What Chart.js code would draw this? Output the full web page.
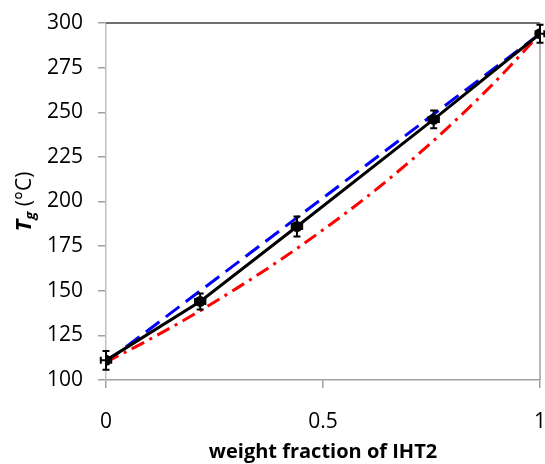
<!DOCTYPE html>
<html lang="en">
  <head>
    <meta charset="utf-8">
    <title>Tg vs weight fraction of IHT2</title>
    <script src="https://cdn.jsdelivr.net/npm/chart.js@4/dist/chart.umd.min.js"></script>
    <style>
      body { margin: 0; background: #fff; }
      #wrap { width: 545px; height: 464px; }
    </style>
  </head>
  <body>
    <div id="wrap">
      <canvas id="tg-chart" width="545" height="464"></canvas>
    </div>
    <script>
      // measured Tg with error bars
      var wIHT2 = [0, 0.217, 0.44, 0.755, 1];
      var tgMeasured = [111, 144, 186, 246, 294];
      var tgErr = [5.3, 4.5, 5.6, 5, 5];
      var wErr = [0.012, 0.012, 0.012, 0.012, 0.01];

      // linear mixing rule (blue dashed)
      var linX = [0, 1];
      var linY = [110, 294];

      // Fox equation curve (red dash-dot)
      var foxX = [0, 0.1, 0.2, 0.3, 0.4, 0.5, 0.6, 0.7, 0.8, 0.9, 1];
      var foxY = [110, 122.7, 136.4, 151.2, 167, 184.1, 202.4, 222.4, 244.2, 267.9, 294];

      var xTicks = [0, 0.5, 1];
      var xTickLabels = ['0', '0.5', '1'];
      var yMin = 100, yMax = 300, yStep = 25;

      function pairs(xs, ys) {
        return xs.map(function (x, i) { return {x: x, y: ys[i]}; });
      }

      var FONT = "'Open Sans', sans-serif";

      var errorBars = {
        id: 'errorBars',
        afterDatasetsDraw: function (chart) {
          var ctx = chart.ctx, sx = chart.scales.x, sy = chart.scales.y;
          ctx.save();
          ctx.strokeStyle = '#000';
          ctx.lineWidth = 2;
          var cap = 3.5;
          wIHT2.forEach(function (w, i) {
            var px = sx.getPixelForValue(w), py = sy.getPixelForValue(tgMeasured[i]);
            var top = sy.getPixelForValue(tgMeasured[i] + tgErr[i]);
            var bot = sy.getPixelForValue(tgMeasured[i] - tgErr[i]);
            var l = sx.getPixelForValue(w - wErr[i]);
            var r = sx.getPixelForValue(w + wErr[i]);
            ctx.beginPath();
            ctx.moveTo(px, top); ctx.lineTo(px, bot);
            ctx.moveTo(px - cap, top); ctx.lineTo(px + cap, top);
            ctx.moveTo(px - cap, bot); ctx.lineTo(px + cap, bot);
            ctx.moveTo(l, py); ctx.lineTo(r, py);
            ctx.moveTo(l, py - cap); ctx.lineTo(l, py + cap);
            ctx.moveTo(r, py - cap); ctx.lineTo(r, py + cap);
            ctx.stroke();
          });
          ctx.restore();
        }
      };

      var frame = {
        id: 'frame',
        beforeDatasetsDraw: function (chart) {
          var a = chart.chartArea, ctx = chart.ctx;
          ctx.save();
          ctx.lineWidth = 1.5;
          ctx.strokeStyle = '#404040';
          ctx.beginPath();
          ctx.moveTo(a.left, a.top); ctx.lineTo(a.right, a.top);
          ctx.stroke();
          ctx.strokeStyle = '#a0a0a0';
          ctx.beginPath();
          ctx.moveTo(a.right, a.top); ctx.lineTo(a.right, a.bottom);
          ctx.stroke();
          ctx.restore();
        },
        afterDraw: function (chart) {
          // y axis title: T_g (°C)
          var a = chart.chartArea, ctx = chart.ctx;
          var cy = (a.top + a.bottom) / 2;
          var fT = "italic bold 22px " + FONT;
          var fg = "italic bold 15px " + FONT;
          var fC = "21px " + FONT;
          ctx.save();
          ctx.font = fT; var wT = ctx.measureText('T').width;
          ctx.font = fg; var wg = ctx.measureText('g').width;
          ctx.font = fC; var wC = ctx.measureText(' (\u00B0C)').width;
          var total = wT + wg + wC;
          ctx.translate(31, cy);
          ctx.rotate(-Math.PI / 2);
          ctx.fillStyle = '#000';
          ctx.textBaseline = 'alphabetic';
          var x = -total / 2;
          ctx.font = fT; ctx.fillText('T', x, 0); x += wT;
          ctx.font = fg; ctx.fillText('g', x, 4); x += wg;
          ctx.font = fC; ctx.fillText(' (\u00B0C)', x, 0);
          ctx.restore();
        }
      };

      new Chart(document.getElementById('tg-chart'), {
        type: 'scatter',
        data: {
          datasets: [
            {
              label: 'measured',
              data: pairs(wIHT2, tgMeasured),
              showLine: true,
              borderColor: '#000',
              backgroundColor: '#000',
              borderWidth: 3,
              pointRadius: 5.5,
              pointBorderWidth: 0,
              order: 0
            },
            {
              label: 'Fox',
              data: pairs(foxX, foxY),
              showLine: true,
              borderColor: '#ff0000',
              borderWidth: 3,
              borderDash: [14, 6, 3, 6],
              cubicInterpolationMode: 'monotone',
              pointRadius: 0,
              order: 1
            },
            {
              label: 'linear',
              data: pairs(linX, linY),
              showLine: true,
              borderColor: '#0000ff',
              borderWidth: 3,
              borderDash: [17, 8],
              pointRadius: 0,
              order: 2
            }
          ]
        },
        options: {
          responsive: false,
          devicePixelRatio: 1,
          animation: false,
          layout: {
            autoPadding: false,
            padding: {left: 0, top: 23, right: 5, bottom: 0}
          },
          plugins: {
            legend: {display: false},
            tooltip: {enabled: false}
          },
          scales: {
            x: {
              type: 'linear',
              min: 0,
              max: 1,
              afterBuildTicks: function (scale) {
                scale.ticks = xTicks.map(function (v) { return {value: v}; });
              },
              afterFit: function (scale) {
                scale.height = 84;
                scale.paddingLeft = 0;
                scale.paddingRight = 0;
              },
              border: {color: '#a0a0a0', width: 1.5},
              grid: {drawOnChartArea: false, tickLength: 8, color: '#a0a0a0', lineWidth: 1.5},
              ticks: {
                padding: 21,
                color: '#000',
                maxRotation: 0,
                font: {family: FONT, size: 21},
                callback: function (v) {
                  var i = xTicks.indexOf(v);
                  return i >= 0 ? xTickLabels[i] : '';
                }
              },
              title: {
                display: true,
                text: 'weight fraction of IHT2',
                color: '#000',
                padding: {top: 0, bottom: 0},
                font: {family: FONT, size: 20, weight: 'bold'}
              }
            },
            y: {
              min: yMin,
              max: yMax,
              afterFit: function (scale) {
                scale.width = 106;
                scale.paddingTop = 0;
                scale.paddingBottom = 0;
              },
              border: {color: '#c0c0c0', width: 1.5},
              grid: {drawOnChartArea: false, tickLength: 8, color: '#a0a0a0', lineWidth: 1.5},
              ticks: {
                stepSize: yStep,
                padding: 15,
                color: '#000',
                font: {family: FONT, size: 21}
              }
            }
          }
        },
        plugins: [frame, errorBars]
      });
    </script>
  </body>
</html>
